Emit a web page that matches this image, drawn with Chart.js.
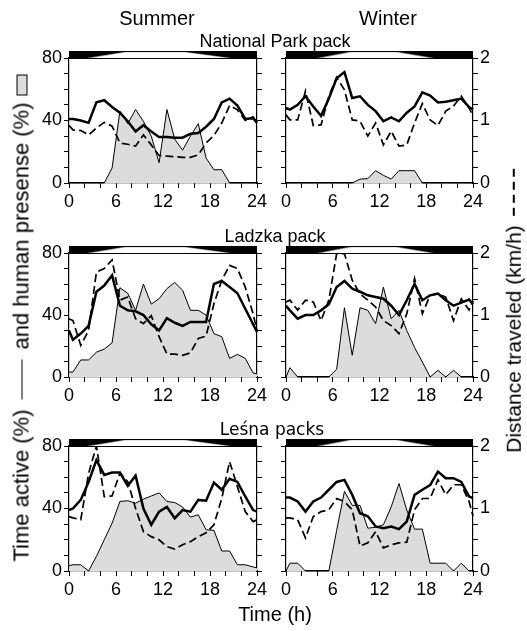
<!DOCTYPE html>
<html><head><meta charset="utf-8">
<script src="https://cdn.jsdelivr.net/npm/chart.js@4/dist/chart.umd.min.js"></script>
<style>
html,body{margin:0;padding:0;background:#fff;}
#wrap{position:relative;width:527px;height:631px;overflow:hidden;font-family:"Liberation Sans",Arial,sans-serif;color:#000;}
canvas{position:absolute;left:0;top:0;}
.t{position:absolute;white-space:nowrap;transform:translateX(-50%);line-height:1;}
.rot{position:absolute;white-space:nowrap;display:flex;align-items:center;justify-content:center;line-height:1;}
</style></head><body><div id="wrap">
<canvas id="c0" width="527" height="631"></canvas>
<canvas id="c1" width="527" height="631"></canvas>
<canvas id="c2" width="527" height="631"></canvas>
<canvas id="c3" width="527" height="631"></canvas>
<canvas id="c4" width="527" height="631"></canvas>
<canvas id="c5" width="527" height="631"></canvas>
<div class="t" style="left:157px;top:8px;font-size:20px;">Summer</div>
<div class="t" style="left:388px;top:8px;font-size:20px;">Winter</div>
<div class="t" style="left:275px;top:32px;font-size:18px;">National Park pack</div>
<div class="t" style="left:275px;top:227px;font-size:18px;">Ladzka pack</div>
<div class="t" style="left:272px;top:421px;font-size:17px;font-family:'DejaVu Sans',sans-serif;">Leśna packs</div>
<div class="t" style="left:275px;top:604px;font-size:20px;">Time (h)</div>
<div class="rot" id="lab1" style="font-size:22px;">Time active (%)<span style="display:inline-block;width:40px;border-top:1.8px solid #000;margin:0 10px;"></span>and human presense (%)<span style="display:inline-block;width:19px;height:9px;border:1px solid #000;background:#dcdcdc;margin-left:7px;"></span></div>
<div class="rot" id="lab2" style="font-size:21px;">Distance traveled (km/h)<span style="display:inline-block;width:48px;height:2px;background:repeating-linear-gradient(to right,#000 0 8px,transparent 8px 13px);margin-left:9px;"></span></div>
</div>
<script>
// ---- data (hour of day) ----
const hours = [0,0.5,1.5,2.5,3.5,4.5,5.5,6.5,7.5,8.5,9.5,10.5,11.5,12.5,13.5,14.5,15.5,16.5,17.5,18.5,19.5,20.5,21.5,22.5,23.5,24];

const npSummerActive  = [41,41,40,38.5,51.6,53,48.6,45,39.5,33,37,33,29.5,29.5,29,29,31.5,32,36,41,51.6,54,49.5,41,41.5,38.5];
const npSummerDist    = [0.92,0.85,0.84,0.77,0.88,0.97,0.91,0.64,0.62,0.59,0.77,0.61,0.44,0.43,0.42,0.41,0.41,0.45,0.64,0.76,0.96,1.24,1.17,1.0,1.06,0.96];
const npSummerHuman   = [0,0,0,0,0,0,9.6,46,38,47,39.5,30,13,47,28,21,30,38,16,8.5,8.5,0,0,0,0,0];

const npWinterActive  = [48,47,50,55.5,49,43,54,67,71,54.4,55.5,50,46,39.5,42,39.5,45,49,58,56,51.6,52,53,54,48.6,47];
const npWinterDist    = [1.09,1.01,1.01,1.47,0.92,0.93,1.39,1.69,1.49,1.01,0.99,0.75,0.96,0.61,0.83,0.59,0.61,0.96,1.27,1.01,0.92,1.15,1.23,1.39,1.2,1.08];
const npWinterHuman   = [0,0,0,0,0,0,0,0,0,0,2.5,2.8,7.9,4.9,2.5,7.9,7.9,7.9,0,0,0,0,0,0,0,0];

const ldSummerActive  = [30,24,28,33,55,59,65.6,46,43,42.4,40,34,30,38,35,33,35.5,35.5,35.5,60,62,58,54,44,34,29];
const ldSummerDist    = [0.94,0.91,0.51,0.75,1.69,1.75,1.89,1.24,1.29,0.94,0.86,0.99,0.65,0.37,0.37,0.35,0.39,0.62,0.66,1.18,1.56,1.8,1.75,1.45,1.02,0.75];
const ldSummerHuman   = [3.2,3.2,11,11,16,18,22,57.6,54,43,60,47,50.5,57,61,56,43,43,40,28,26,12,14.6,12,2.6,2];

const ldWinterActive  = [46,43,37.6,40,40,43,47,58,62,57,55,52.7,51.6,50.5,46,40,49.5,60,49.5,52.7,53.8,49.5,46,48,50,47];
const ldWinterDist    = [1.21,1.24,1.08,1.24,1.21,0.91,1.24,1.99,1.99,1.56,1.34,1.24,1.13,0.91,0.83,0.7,1.02,1.59,1.02,1.32,1.34,1.29,0.91,1.26,1.08,1.23];
const ldWinterHuman   = [0,6,0,0,0,0,0,5,44.7,14,44.7,43,34.4,58,37.6,43,30,19,9.7,0,4.3,0,4.3,0,0,0];

const lsSummerActive  = [39,40,45.5,57,71,61.5,63,63,54.5,61,40,29.6,38,41,33.8,39,38,45.5,45,56.6,52,59,57,47.7,39,38];
const lsSummerDist    = [0.87,0.85,0.82,1.56,2.0,1.19,1.2,1.57,1.43,1.0,0.63,0.55,0.5,0.39,0.35,0.42,0.47,0.55,0.61,0.74,1.16,1.75,1.35,0.95,0.79,0.82];
const lsSummerHuman   = [3.4,4,4,0,9.4,20,30.6,44.5,45,43.4,46,48,50,44.5,43.8,41,34.5,36,26.4,26,12.8,12.8,4,4,2.6,2];

const lsWinterActive  = [47,47,44.5,38,44.5,47,52,57,58.3,48.7,37,35,28.5,27.4,28.5,26.8,31.7,48.7,52,55,63.6,59.4,59.4,57,47.7,46.6];
const lsWinterDist    = [0.85,0.85,0.82,0.53,0.87,0.95,0.98,1.16,1.11,0.98,0.4,0.45,0.63,0.37,0.42,0.45,0.46,0.98,1.16,1.16,1.46,1.22,1.38,1.38,1.11,0.88];
const lsWinterHuman   = [0,5,5,0,0,0,0,26,51,42,42,27.4,28,29.6,41,56,39,26.8,26.8,5,5,5,0,5,0,0];

// tick labels
const xTickLabels = [0,6,12,18,24];
const leftTickLabels = [0,40,80];
const rightTickLabels = [0,1,2];
// daylight bar (hours): bottom start, top start, top end, bottom end
const summerLight = [2.5,7.2,14.8,20.5];
const winterLight = [4.2,8.3,14.2,18.8];

// ---- layout ----
const W = 527, H = 631, WY = 30, WY2 = 30, HX = 28;
const colX = [{left:69,right:257},{left:286,right:473}];
const rowY = [{top:58,bottom:183},{top:253,bottom:377},{top:446,bottom:571}];
const FONT = '"Liberation Sans", Arial, sans-serif';

function pts(vals){ return hours.map((h,i)=>({x:h,y:vals[i]})); }
function range(a,b,s){ const r=[]; for(let v=a; v<=b+1e-9; v+=s) r.push({value:Math.round(v*1000)/1000}); return r; }

const dayBar = {
  id:'dayBar',
  afterDraw(chart){
    const {ctx, chartArea:a, scales:{x}} = chart;
    const L = chart.options.plugins.dayBar.light;
    const h = 7, t = a.top - h;
    ctx.save();
    ctx.fillStyle = '#000';
    ctx.fillRect(a.left, t, a.right - a.left, h);
    const px = v => x.getPixelForValue(v);
    ctx.fillStyle = '#9a9a9a';
    ctx.beginPath();
    ctx.moveTo(px(L[0]) - 2, a.top);
    ctx.lineTo(px(L[1]) - 2, t + 1);
    ctx.lineTo(px(L[2]) + 2, t + 1);
    ctx.lineTo(px(L[3]) + 2, a.top);
    ctx.closePath(); ctx.fill();
    ctx.fillStyle = '#fff';
    ctx.beginPath();
    ctx.moveTo(px(L[0]) + 3, a.top);
    ctx.lineTo(px(L[1]) + 1, t + 1.2);
    ctx.lineTo(px(L[2]) - 1, t + 1.2);
    ctx.lineTo(px(L[3]) - 3, a.top);
    ctx.closePath(); ctx.fill();
    ctx.strokeStyle = '#000'; ctx.lineWidth = 1;
    ctx.beginPath(); ctx.moveTo(a.left, a.top + 0.5); ctx.lineTo(a.right, a.top + 0.5); ctx.stroke();
    ctx.restore();
  }
};

function makePanel(id, col, row, active, dist, human, light){
  const cx = colX[col], ry = rowY[row];
  const showLeft = col === 0, showRight = col === 1;
  const gridCfg = {drawOnChartArea:false, drawTicks:true, tickLength:5, color:'#000', lineWidth:1};
  const borderCfg = {display:true, color:'#000', width:1.2};
  new Chart(document.getElementById(id), {
    type:'line',
    data:{ datasets:[
      {data:pts(human), yAxisID:'y', borderColor:'#000', borderWidth:1, backgroundColor:'#dcdcdc', fill:'origin', pointRadius:0, tension:0, order:3, clip:false},
      {data:pts(dist), yAxisID:'y2', borderColor:'#000', borderWidth:1.7, borderDash:[8,4], fill:false, pointRadius:0, tension:0, order:2, clip:false},
      {data:pts(active), yAxisID:'y', borderColor:'#000', borderWidth:2.5, fill:false, pointRadius:0, tension:0, order:1, clip:false}
    ]},
    options:{
      responsive:false, animation:false, devicePixelRatio:1, events:[],
      layout:{padding:{left:cx.left - WY, right:W - cx.right - WY2, top:ry.top, bottom:H - ry.bottom - HX}},
      plugins:{legend:{display:false}, tooltip:{enabled:false}, dayBar:{light}},
      scales:{
        x:{type:'linear', position:'bottom', min:0, max:24,
           afterFit:s=>{s.height = HX;},
           afterBuildTicks:s=>{s.ticks = range(0,24,2);},
           ticks:{autoSkip:false, maxRotation:0, padding:3, color:'#000', font:{family:FONT, size:18},
                  callback:v=> xTickLabels.includes(v) ? String(v) : ''},
           grid:gridCfg, border:borderCfg},
        y:{type:'linear', position:'left', min:0, max:80,
           afterFit:s=>{s.width = WY;},
           afterBuildTicks:s=>{s.ticks = range(0,80,10);},
           ticks:{autoSkip:false, padding:2, color:'#000', font:{family:FONT, size:18},
                  callback:v=> (showLeft && leftTickLabels.includes(v)) ? String(v) : ''},
           grid:gridCfg, border:borderCfg},
        y2:{type:'linear', position:'right', min:0, max:2,
           afterFit:s=>{s.width = WY2;},
           afterBuildTicks:s=>{s.ticks = range(0,2,0.25);},
           ticks:{autoSkip:false, padding:2, color:'#000', font:{family:FONT, size:18},
                  callback:v=> (showRight && rightTickLabels.includes(v)) ? String(v) : ''},
           grid:gridCfg, border:borderCfg}
      }
    },
    plugins:[dayBar]
  });
}

makePanel('c0',0,0,npSummerActive,npSummerDist,npSummerHuman,summerLight);
makePanel('c1',1,0,npWinterActive,npWinterDist,npWinterHuman,winterLight);
makePanel('c2',0,1,ldSummerActive,ldSummerDist,ldSummerHuman,summerLight);
makePanel('c3',1,1,ldWinterActive,ldWinterDist,ldWinterHuman,winterLight);
makePanel('c4',0,2,lsSummerActive,lsSummerDist,lsSummerHuman,summerLight);
makePanel('c5',1,2,lsWinterActive,lsWinterDist,lsWinterHuman,winterLight);

function placeRot(el, cx, cy){
  const w = el.offsetWidth, h = el.offsetHeight;
  el.style.left = (cx - w/2) + 'px';
  el.style.top = (cy - h/2) + 'px';
  el.style.transform = 'rotate(-90deg)';
}
placeRot(document.getElementById('lab1'), 21, 318);
placeRot(document.getElementById('lab2'), 513, 310);
</script>
</body></html>
